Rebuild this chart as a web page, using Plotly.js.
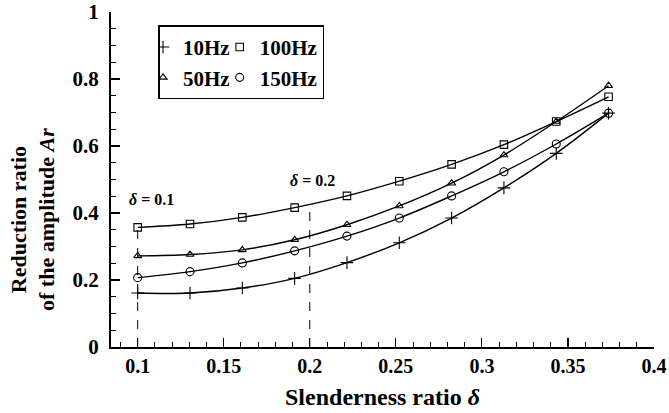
<!DOCTYPE html>
<html>
<head>
<meta charset="utf-8">
<script src="https://cdn.plot.ly/plotly-3.0.1.min.js"></script>
<style>html,body{margin:0;padding:0;background:#fff;}#chart{width:669px;height:413px;}</style>
</head>
<body>
<div id="chart"></div>
<script>
// Data
const slenderness = [0.1, 0.1304, 0.1608, 0.1912, 0.2216, 0.252, 0.2824, 0.3128, 0.3432, 0.3736];
const hz10  = [0.161, 0.161, 0.176, 0.205, 0.252, 0.311, 0.385, 0.475, 0.578, 0.698];
const hz50  = [0.272, 0.276, 0.290, 0.320, 0.365, 0.421, 0.489, 0.573, 0.673, 0.780];
const hz100 = [0.357, 0.367, 0.387, 0.416, 0.451, 0.495, 0.545, 0.604, 0.673, 0.747];
const hz150 = [0.207, 0.225, 0.251, 0.287, 0.331, 0.385, 0.451, 0.523, 0.606, 0.698];
const seriesNames = ['10Hz', '50Hz', '100Hz', '150Hz'];
const xTickVals = [0.1, 0.15, 0.2, 0.25, 0.3, 0.35, 0.4];
const xTickText = ['0.1', '0.15', '0.2', '0.25', '0.3', '0.35', '0.4'];
const yTickVals = [0, 0.2, 0.4, 0.6, 0.8, 1];
const yTickText = ['0', '0.2', '0.4', '0.6', '0.8', '1'];
// reference markers (dashed lines)
const refDelta = [0.1, 0.2];
const refTop = [0.35, 0.418];
const refLabels = ['<i>δ</i> = 0.1', '<i>δ</i> = 0.2'];
const refLabelX = [0.1083, 0.2017];
const refLabelY = [0.439, 0.497];

const FONT = 'Liberation Serif, Times New Roman, serif';
const series = [hz10, hz50, hz100, hz150];
const symbols = ['cross-thin-open', 'triangle-up-open', 'square-open', 'circle-open'];
const sizes = [9, 7, 7.5, 8];
const groups = ['a', 'a', 'b', 'b'];

const traces = [];
series.forEach((ys, i) => {
  traces.push({
    x: slenderness, y: ys, mode: 'lines', type: 'scatter',
    line: {color: '#000', width: 1.4, shape: 'spline', smoothing: 1},
    showlegend: false, hoverinfo: 'skip'
  });
});
series.forEach((ys, i) => {
  traces.push({
    x: slenderness, y: ys, mode: 'markers', type: 'scatter', name: seriesNames[i],
    legendgroup: groups[i],
    marker: {symbol: symbols[i], size: sizes[i], color: '#000', line: {color: '#000', width: 1.1}},
    showlegend: true
  });
});

const shapes = refDelta.map((d, i) => ({
  type: 'line', xref: 'x', yref: 'y', x0: d, x1: d, y0: 0, y1: refTop[i],
  line: {color: '#000', width: 1, dash: 'dash'}
}));

const annotations = refLabels.map((t, i) => ({
  text: t, x: refLabelX[i], y: refLabelY[i], xref: 'x', yref: 'y',
  showarrow: false, xanchor: 'center', yanchor: 'middle',
  font: {family: FONT, size: 16, color: '#000', weight: 'bold'}
}));
annotations.push({
  text: 'Reduction ratio<br>of the amplitude <i>Ar</i>',
  xref: 'paper', yref: 'paper', x: -0.145, y: 0.38,
  xanchor: 'center', yanchor: 'middle', textangle: -90, showarrow: false,
  font: {family: FONT, size: 22, color: '#000', weight: 'bold'}
});

const layout = {
  width: 669, height: 413,
  margin: {l: 111, r: 15, t: 12, b: 66},
  paper_bgcolor: '#fff', plot_bgcolor: '#fff',
  showlegend: true,
  legend: {
    orientation: 'h', traceorder: 'grouped', tracegroupgap: 0,
    x: 0.0866, y: 0.96, xanchor: 'left', yanchor: 'top',
    bgcolor: '#fff', bordercolor: '#000', borderwidth: 1.5,
    font: {family: FONT, size: 21, color: '#000', weight: 'bold'},
    itemwidth: 30, indentation: -15
  },
  xaxis: {
    range: [0.0845, 0.4], showgrid: false, zeroline: false,
    showline: true, linecolor: '#000', linewidth: 2, mirror: false,
    ticks: 'inside', ticklen: 9, tickwidth: 1.2, tickcolor: '#000',
    tickmode: 'array', tickvals: xTickVals, ticktext: xTickText,
    tickfont: {family: FONT, size: 20, color: '#000', weight: 'bold'},
    minor: {dtick: 0.01, tick0: 0, ticks: 'inside', ticklen: 5, tickwidth: 1, tickcolor: '#000', showgrid: false},
    title: {text: 'Slenderness ratio <i>δ</i>', standoff: 12,
            font: {family: FONT, size: 24, color: '#000', weight: 'bold'}}
  },
  yaxis: {
    range: [0, 1], showgrid: false, zeroline: false,
    showline: true, linecolor: '#000', linewidth: 2, mirror: false,
    ticks: 'inside', ticklen: 9, tickwidth: 1.2, tickcolor: '#000',
    tickmode: 'array', tickvals: yTickVals, ticktext: yTickText,
    ticklabelstandoff: 6,
    tickfont: {family: FONT, size: 21, color: '#000', weight: 'bold'},
    minor: {dtick: 0.05, tick0: 0, ticks: 'inside', ticklen: 5, tickwidth: 1, tickcolor: '#000', showgrid: false}
  },
  shapes: shapes,
  annotations: annotations
};

Plotly.newPlot('chart', traces, layout, {displayModeBar: false, staticPlot: true});
</script>
</body>
</html>
